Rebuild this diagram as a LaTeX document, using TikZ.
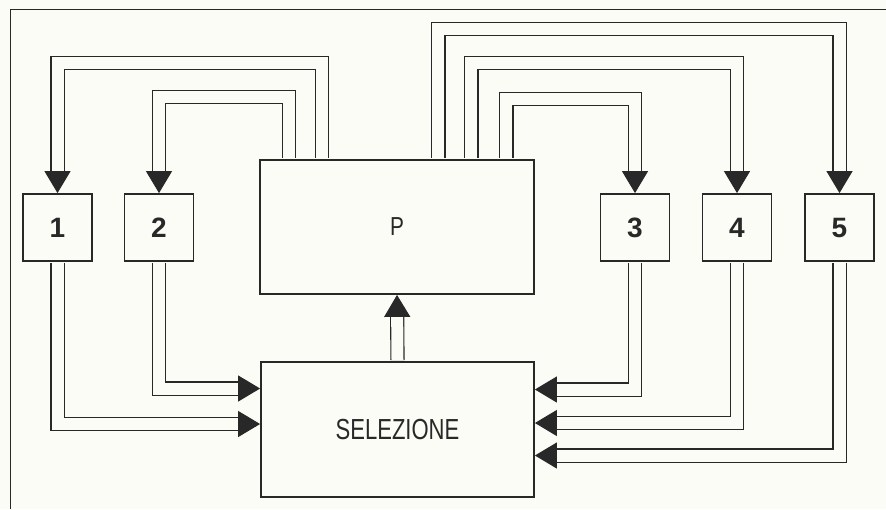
\documentclass[tikz,border=0pt]{standalone}
\usepackage{fontspec}
\setmainfont{Liberation Sans}
\usepackage{graphicx}
\usetikzlibrary{arrows.meta}
\definecolor{paper}{RGB}{252,252,246}
\definecolor{ink}{RGB}{40,40,40}

\begin{document}
\begin{tikzpicture}[x=1pt, y=-1pt,
    unit/.style={rectangle, draw=ink, line width=1.8pt, minimum width=69pt, minimum height=67pt, inner sep=0pt, font=\fontsize{28}{28}\selectfont\bfseries, text=ink},
    block/.style={rectangle, draw=ink, line width=1.8pt, inner sep=0pt, text=ink},
    bus/.style={draw=ink, line width=1.1pt, double=paper, double distance=12pt, -{Triangle[width=26pt,length=22pt]}},
    frame/.style={draw=ink, line width=1.6pt}
]
\fill[paper] (0,0) rectangle (886,509);
\useasboundingbox (0,0) rectangle (886,509);
\draw[frame] (886,9.5) -- (10.5,9.5) -- (10.5,509);

% the units
\node[unit] (b1) at (57.5,227.5) {1};
\node[unit] (b2) at (159,227.5) {2};
\node[unit] (b3) at (635,227.5) {3};
\node[unit] (b4) at (737,227.5) {4};
\node[unit] (b5) at (839.5,227.5) {5};

\node[block, minimum width=274pt, minimum height=134pt, font=\fontsize{26}{26}\selectfont] (P) at (397,227) {\scalebox{0.8}[1]{P}};
\node[block, minimum width=273pt, minimum height=135pt, font=\fontsize{29}{29}\selectfont] (S) at (397.5,429.5) {\scalebox{0.76}[1]{SELEZIONE}};

% from P up and over to the units
\draw[bus] ([xshift=63pt, yshift=1pt]P.north west) -- ++(0,-95) -| (b1.north);
\draw[bus] ([xshift=29.5pt, yshift=1pt]P.north west) -- ++(0,-61) -| (b2.north);
\draw[bus] ([xshift=-28.5pt, yshift=1pt]P.north east) -- ++(0,-59) -| (b3.north);
\draw[bus] ([xshift=-63.5pt, yshift=1pt]P.north east) -- ++(0,-95.5) -| (b4.north);
\draw[bus] ([xshift=-96.5pt, yshift=1pt]P.north east) -- ++(0,-129) -| (b5.north);

% from the units down into SELEZIONE
\draw[bus] ([yshift=-1pt]b1.south) |- ([yshift=5.5pt]S.west);
\draw[bus] ([yshift=-1pt]b2.south) |- ([yshift=41pt]S.west);
\draw[bus] ([yshift=-1pt]b3.south) |- ([yshift=40pt]S.east);
\draw[bus] ([yshift=-1pt]b4.south) |- ([yshift=6.5pt]S.east);
\draw[bus] ([yshift=-1pt]b5.south) |- ([yshift=-26pt]S.east);

\draw[bus] ([yshift=1pt]S.north) -- (P.south);
\end{tikzpicture}
\end{document}
